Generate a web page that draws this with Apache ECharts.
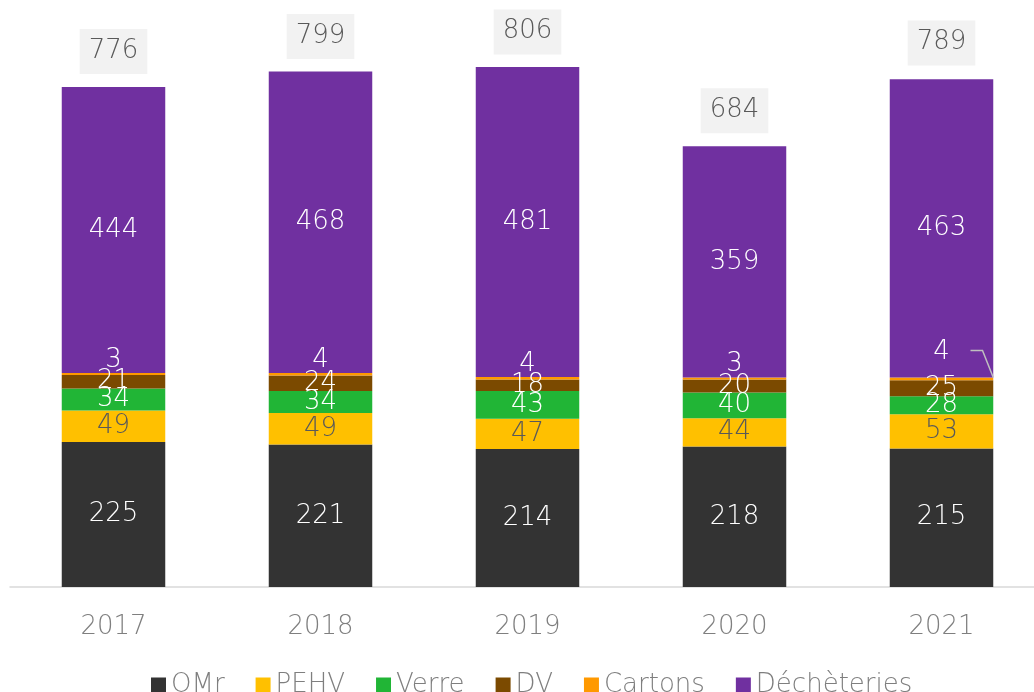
<!DOCTYPE html>
<html>
<head>
<meta charset="utf-8">
<script src="https://cdn.jsdelivr.net/npm/echarts@6/dist/echarts.min.js"></script>
<style>
html,body{margin:0;padding:0;background:#fff;overflow:hidden;width:1034px;height:692px;}
#chart{width:1046px;height:692px;}
</style>
</head>
<body>
<div id="chart"></div>
<script>
const categories = ['2017', '2018', '2019', '2020', '2021'];
const omr = [225, 221, 214, 218, 215];
const pehv = [49, 49, 47, 44, 53];
const verre = [34, 34, 43, 40, 28];
const dv = [21, 24, 18, 20, 25];
const cartons = [3, 4, 4, 3, 4];
const decheteries = [444, 468, 481, 359, 463];
const totals = [776, 799, 806, 684, 789];
// the one Cartons label drawn with a leader line (2021)
const leaderIndex = 4;

const FONT = 'DejaVu Sans';
const FW = 200;
const chart = echarts.init(document.getElementById('chart'));

function seg(name, data, color, labelColor) {
  return {
    name: name,
    type: 'bar',
    stack: 'total',
    barWidth: '50%',
    data: data,
    itemStyle: { color: color },
    label: {
      show: true,
      position: 'inside',
      color: labelColor,
      fontFamily: FONT,
      fontSize: 26,
      fontWeight: FW
    }
  };
}

const LEADER_DY = -12;
const cartonsSeries = seg('Cartons', cartons, '#ff9900', '#ffffff');
cartonsSeries.label.position = 'top';
cartonsSeries.label.distance = 0;
cartonsSeries.labelLayout = function (p) {
  return p.dataIndex === leaderIndex ? { dy: LEADER_DY } : {};
};

// top of the Cartons segment for the leader-line bar, from the stacked arrays
const cartonsTop = omr[leaderIndex] + pehv[leaderIndex] + verre[leaderIndex] + dv[leaderIndex] + cartons[leaderIndex];

const option = {
  animation: false,
  grid: { left: 10, right: 1, top: 7, bottom: 105 },
  xAxis: {
    type: 'category',
    data: categories,
    axisTick: { show: false },
    axisLine: { lineStyle: { color: '#d9d9d9', width: 1.5 } },
    axisLabel: { color: '#7f7f7f', fontFamily: FONT, fontWeight: FW, fontSize: 26, margin: 27 }
  },
  yAxis: {
    type: 'value',
    min: 0,
    max: 900,
    show: false,
    splitLine: { show: false }
  },
  legend: {
    data: ['OMr', 'PEHV', 'Verre', 'DV', 'Cartons', 'Déchèteries'],
    left: 146,
    top: 667,
    itemWidth: 15,
    itemHeight: 15,
    itemGap: 31,
    icon: 'rect',
    textStyle: { color: '#7f7f7f', fontFamily: FONT, fontWeight: FW, fontSize: 26 }
  },
  series: [
    seg('OMr', omr, '#333333', '#ffffff'),
    seg('PEHV', pehv, '#ffc000', '#595959'),
    seg('Verre', verre, '#21b536', '#ffffff'),
    seg('DV', dv, '#7b4a00', '#ffffff'),
    cartonsSeries,
    seg('Déchèteries', decheteries, '#7030a0', '#ffffff'),
    {
      name: 'Total',
      type: 'bar',
      barWidth: '50%',
      barGap: '-100%',
      data: totals,
      silent: true,
      z: 0,
      itemStyle: { color: 'rgba(0,0,0,0)' },
      label: {
        show: true,
        position: 'top',
        distance: 13,
        color: '#595959',
        fontFamily: FONT,
        fontWeight: FW,
        fontSize: 26,
        backgroundColor: '#f2f2f2',
        padding: [9, 9, 10, 9]
      }
    },
    {
      name: 'leader',
      type: 'custom',
      silent: true,
      z: 5,
      data: [[leaderIndex, cartonsTop]],
      renderItem: function (params, api) {
        const p = api.coord([api.value(0), api.value(1)]);
        const bw = api.size([1, 0])[0] * 0.5;
        const ly = p[1] + LEADER_DY - 15;
        return {
          type: 'polyline',
          shape: { points: [[p[0] + 29, ly], [p[0] + 41, ly], [p[0] + bw / 2, p[1]]] },
          style: { stroke: '#bfbfbf', lineWidth: 1.5, fill: null }
        };
      }
    }
  ]
};
chart.setOption(option);
</script>
</body>
</html>
